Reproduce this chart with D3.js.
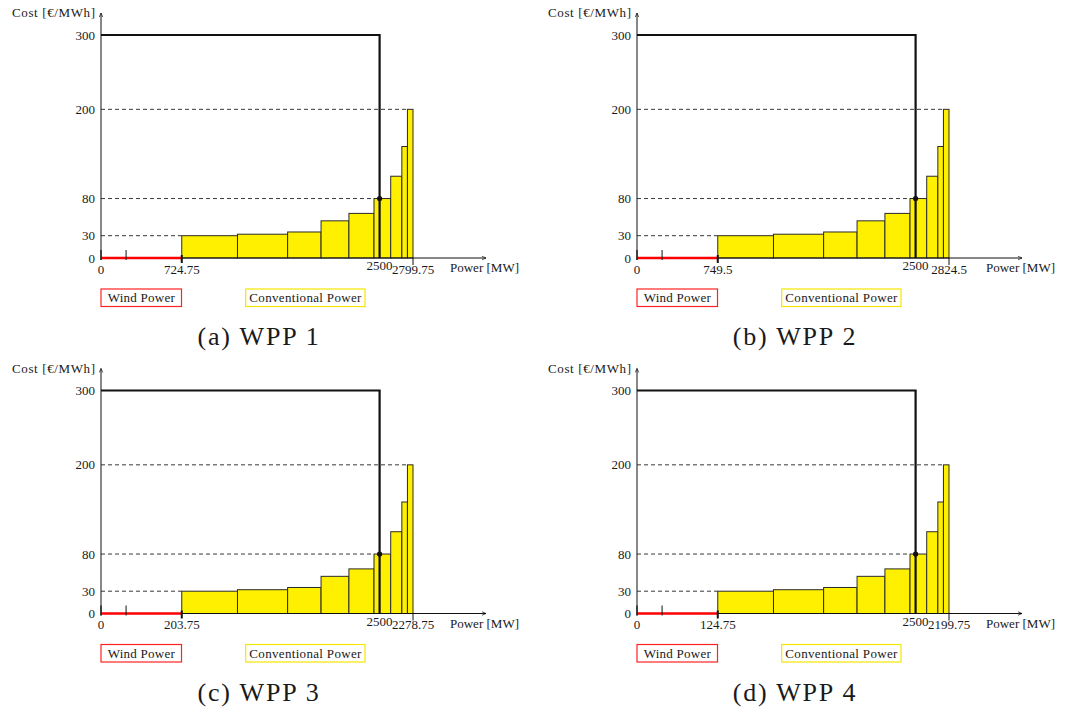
<!DOCTYPE html>
<html>
<head>
<meta charset="utf-8">
<script src="https://cdn.jsdelivr.net/npm/d3@7"></script>
<style>
  body { margin: 0; background: #fff; }
</style>
</head>
<body>
<svg></svg>
<script>
// one panel per wind power plant
const captions = ['(a) WPP 1', '(b) WPP 2', '(c) WPP 3', '(d) WPP 4'];
const windLabels = ['724.75', '749.5', '203.75', '124.75'];
const totalLabels = ['2799.75', '2824.5', '2278.75', '2199.75'];

// shared merit order (schematic, same in every panel)
const windEnd = 724.75;
const windMark = 225;
const demand = 2500;
const priceCap = 300;
const blockWidths = [500, 450, 300, 250, 225, 150, 100, 50, 50];
const blockPrices = [30, 32, 35, 50, 60, 80, 110, 150, 200];
const yTicks = [0, 30, 80, 200, 300];
const dashedLevels = [30, 80, 200];

const serif = "'Liberation Serif', 'Times New Roman', Tinos, 'DejaVu Serif', serif";

const svg = d3.select('svg')
  .attr('width', 1065)
  .attr('height', 710)
  .style('font-family', serif);

const origins = [[101, 258], [637, 258], [101, 613.5], [637, 613.5]];

const total = windEnd + d3.sum(blockWidths);
const x = d3.scaleLinear().domain([0, total]).range([0, 312]);
const y = d3.scaleLinear().domain([0, priceCap]).range([0, -223]);

// block edges along the power axis
let acc = windEnd;
const blocks = blockWidths.map((w, i) => {
  const b = { x0: acc, x1: acc + w, price: blockPrices[i] };
  acc += w;
  return b;
});

const defs = svg.append('defs');
defs.append('marker')
  .attr('id', 'arrow')
  .attr('viewBox', '0 0 10 10')
  .attr('refX', 9).attr('refY', 5)
  .attr('markerWidth', 5).attr('markerHeight', 5)
  .attr('orient', 'auto')
  .append('path')
  .attr('d', 'M1,1.5 L9,5 L1,8.5')
  .attr('fill', 'none')
  .attr('stroke', '#111')
  .attr('stroke-width', 1.4);

const txt = (sel) => sel
  .attr('font-family', serif)
  .attr('fill', '#1a1a1a');

origins.forEach(([ox, oy], p) => {
  const g = svg.append('g').attr('transform', `translate(${ox},${oy})`);

  // dashed price levels up to the block that reaches them
  g.selectAll('.lvl')
    .data(dashedLevels)
    .enter()
    .append('line')
    .attr('x1', 0)
    .attr('x2', d => x(blocks.find(b => b.price >= d).x0))
    .attr('y1', d => y(d))
    .attr('y2', d => y(d))
    .attr('stroke', '#222')
    .attr('stroke-width', 0.9)
    .attr('stroke-dasharray', '4,3');

  // conventional power blocks
  g.selectAll('.blk')
    .data(blocks)
    .enter()
    .append('rect')
    .attr('x', d => x(d.x0))
    .attr('y', d => y(d.price))
    .attr('width', d => x(d.x1) - x(d.x0))
    .attr('height', d => -y(d.price))
    .attr('fill', '#fff000')
    .attr('stroke', '#2a2a2a')
    .attr('stroke-width', 1);

  // axes
  g.append('line')
    .attr('x1', 0).attr('y1', 2).attr('x2', 0).attr('y2', y(priceCap) - 22)
    .attr('stroke', '#111').attr('stroke-width', 1)
    .attr('marker-end', 'url(#arrow)');
  g.append('line')
    .attr('x1', 0).attr('y1', 0).attr('x2', 385).attr('y2', 0)
    .attr('stroke', '#111').attr('stroke-width', 1)
    .attr('marker-end', 'url(#arrow)');

  // wind power
  g.append('line')
    .attr('x1', x(0)).attr('x2', x(windEnd))
    .attr('y1', 0).attr('y2', 0)
    .attr('stroke', '#f00').attr('stroke-width', 2.4);

  // tick marks on the power axis
  [[0, -8, 2, 1.2], [windMark, -8, 2, 1], [windEnd, -3, 5, 2], [total, 0, 7, 1]]
    .forEach(([v, a, b, w]) => {
      g.append('line')
        .attr('x1', x(v)).attr('x2', x(v))
        .attr('y1', a).attr('y2', b)
        .attr('stroke', '#111').attr('stroke-width', w);
    });

  // demand curve
  g.append('path')
    .attr('d', d3.line()([[x(0), y(priceCap)], [x(demand), y(priceCap)], [x(demand), 0]]))
    .attr('fill', 'none')
    .attr('stroke', '#111')
    .attr('stroke-width', 2.2);

  const clearing = blocks.find(b => b.x1 > demand).price;
  g.append('circle')
    .attr('cx', x(demand)).attr('cy', y(clearing))
    .attr('r', 2.6).attr('fill', '#111');

  // cost ticks
  g.selectAll('.yt')
    .data(yTicks)
    .enter()
    .append('text')
    .call(txt)
    .attr('x', -6)
    .attr('y', d => y(d) + 4.5)
    .attr('text-anchor', 'end')
    .attr('font-size', 13)
    .text(d => d);

  // power ticks
  const xt = [[0, '0', 15.5], [windEnd, windLabels[p], 15.5], [demand, '2500', 12], [total, totalLabels[p], 15.5]];
  g.selectAll('.xt')
    .data(xt)
    .enter()
    .append('text')
    .call(txt)
    .attr('x', d => x(d[0]))
    .attr('y', d => d[2])
    .attr('text-anchor', 'middle')
    .attr('font-size', 13)
    .text(d => d[1]);

  g.append('text')
    .call(txt)
    .attr('x', -89).attr('y', y(priceCap) - 18)
    .attr('font-size', 13)
    .attr('textLength', 83)
    .text('Cost [€/MWh]');
  g.append('text')
    .call(txt)
    .attr('x', 349).attr('y', 14)
    .attr('font-size', 13)
    .attr('textLength', 69)
    .text('Power [MW]');

  // legend
  const legend = [
    { x0: 0, x1: 80.5, w: 67, label: 'Wind Power', color: '#f22' },
    { x0: 144.7, x1: 264, w: 112, label: 'Conventional Power', color: '#f5e600' }
  ];
  legend.forEach(l => {
    g.append('rect')
      .attr('x', l.x0).attr('y', 31)
      .attr('width', l.x1 - l.x0).attr('height', 17.5)
      .attr('fill', 'none')
      .attr('stroke', l.color)
      .attr('stroke-width', 1.2);
    g.append('text')
      .call(txt)
      .attr('x', (l.x0 + l.x1 - l.w) / 2).attr('y', 44)
      .attr('font-size', 13)
      .attr('textLength', l.w)
      .text(l.label);
  });

  g.append('text')
    .call(txt)
    .attr('x', 158).attr('y', 87)
    .attr('text-anchor', 'middle')
    .attr('font-size', 26)
    .attr('letter-spacing', 1.8)
    .text(captions[p]);
});
</script>
</body>
</html>
